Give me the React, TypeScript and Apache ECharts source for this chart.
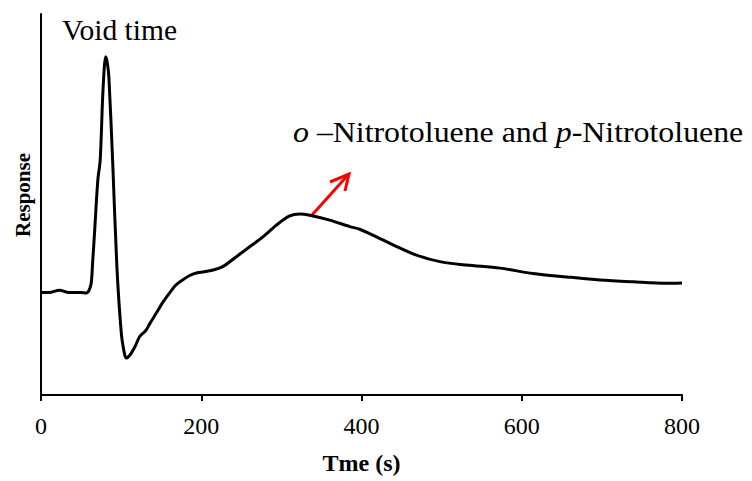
import React, { useEffect, useRef } from "react";
import * as echarts from "echarts";

const timeS = [0, 10, 23, 35, 50, 56.5, 60, 62.7, 64.5, 66.8, 70.9, 73.9, 76.8, 79, 80.6, 82.5, 84.7, 89.7, 94.7, 100.2, 104, 106.4, 109, 112.7, 118, 123, 129.3, 131.4, 136, 143.9, 152, 160.5, 168, 176.7, 185, 193.9, 210.5, 226.7, 243.8, 260.4, 277, 293.8, 310.4, 322.9, 335.4, 360.4, 385.4, 397.8, 418.7, 439.4, 468.6, 497.8, 531.1, 572.7, 613.9, 656, 697.6, 738.8, 780.9, 800];
const response = [26.9, 26.9, 27.5, 26.9, 26.9, 26.8, 27.5, 29.4, 35, 42.5, 56.4, 61.7, 77.4, 86, 88.8, 87.5, 83.5, 59.9, 33.7, 16.3, 11, 9.7, 10, 11.0, 13, 15.3, 16.6, 17.1, 18.8, 21.5, 24.3, 26.8, 28.8, 30.2, 31.3, 32.0, 32.6, 33.7, 36.3, 38.9, 41.5, 44.6, 47.0, 47.5, 47.2, 45.9, 44.2, 43.5, 41.5, 39.4, 36.7, 35.0, 34.1, 33.3, 31.9, 31.0, 30.2, 29.7, 29.3, 29.4];
const xTicks = [0, 200, 400, 600, 800];

const FONT = "'Liberation Serif', 'Times New Roman', serif";

export default function App() {
  const ref = useRef<HTMLDivElement>(null);
  useEffect(() => {
    if (!ref.current) return;
    const chart = echarts.init(ref.current, null, { renderer: "svg" });
    const data = timeS.map((t, i) => [t, response[i]]);
    chart.setOption({
      animation: false,
      backgroundColor: "#ffffff",
      grid: { left: 41, right: 70, top: 14, bottom: 86, containLabel: false, outerBoundsMode: "none" },
      xAxis: {
        type: "value",
        min: xTicks[0],
        max: xTicks[xTicks.length - 1],
        interval: 200,
        name: "Tme (s)",
        nameLocation: "middle",
        nameGap: 56,
        nameTextStyle: { fontFamily: FONT, fontWeight: "bold", fontSize: 24, color: "#000" },
        axisLine: { lineStyle: { color: "#000", width: 2 } },
        axisTick: { show: true, length: 6, lineStyle: { color: "#000", width: 2 } },
        axisLabel: { fontFamily: FONT, fontSize: 24, color: "#000", margin: 19 },
        splitLine: { show: false },
      },
      yAxis: {
        type: "value",
        min: 0,
        max: 100,
        axisLine: { show: true, lineStyle: { color: "#000", width: 2 } },
        axisTick: { show: false },
        axisLabel: { show: false },
        splitLine: { show: false },
      },
      series: [
        {
          type: "line",
          data,
          showSymbol: false,
          smooth: 0.3,
          lineStyle: { color: "#000", width: 3 },
        },
      ],
      graphic: [
        {
          type: "text",
          x: 22.6,
          y: 195,
          rotation: Math.PI / 2,
          style: {
            text: "Response",
            font: `bold 21px ${FONT}`,
            fill: "#000",
            textAlign: "center",
            textVerticalAlign: "middle",
          },
        },
        {
          type: "text",
          x: 62,
          y: 30.3,
          style: { text: "Void time", font: `29.5px ${FONT}`, fill: "#000", textAlign: "left", textVerticalAlign: "middle" },
        },
        {
          type: "text",
          x: 293,
          y: 132.7,
          scaleX: 1.08,
          style: {
            text: "{i|o} –Nitrotoluene and {i|p}-Nitrotoluene",
            font: `29.5px ${FONT}`,
            fill: "#000",
            textAlign: "left",
            textVerticalAlign: "middle",
            rich: {
              i: { fontStyle: "italic", fontFamily: FONT, fontSize: 29.5, fill: "#000" },
            },
          },
        },
        {
          type: "line",
          shape: { x1: 312, y1: 215, x2: 348, y2: 175 },
          style: { stroke: "#ff0000", lineWidth: 3 },
        },
        {
          type: "polyline",
          shape: { points: [[330, 182], [349, 174], [345, 191]] },
          style: { stroke: "#ff0000", lineWidth: 3, fill: null },
        },
      ],
    });
    return () => chart.dispose();
  }, []);
  return <div ref={ref} style={{ width: 752, height: 481, position: "absolute", left: 0, top: 0 }} />;
}
